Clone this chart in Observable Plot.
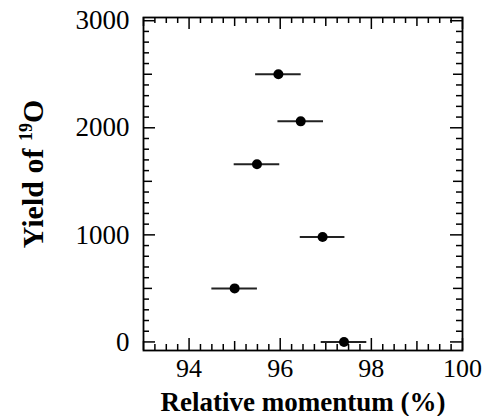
<!DOCTYPE html>
<html>
<head>
<meta charset="utf-8">
<script src="https://cdn.jsdelivr.net/npm/d3@7"></script>
<script src="https://cdn.jsdelivr.net/npm/@observablehq/plot@0.6"></script>
<style>
  html, body { margin: 0; padding: 0; background: #fff; }
  #chart svg { display: block; }
</style>
</head>
<body>
<div id="chart"></div>
<script>
// Data: relative momentum (%) and yield of 19O
const momentum = [95.96, 96.45, 95.49, 96.93, 95.0, 97.4];
const yieldO19 = [2500, 2060, 1660, 980, 500, 0];
const momentumErr = [0.5, 0.5, 0.5, 0.49, 0.5, 0.5];

// Tick labels
const xTickLabels = [94, 96, 98, 100];
const yTickLabels = [0, 1000, 2000, 3000];

const data = momentum.map((m, i) => ({
  x: m, y: yieldO19[i], lo: m - momentumErr[i], hi: m + momentumErr[i]
}));

const W = 487, H = 416;
const mt = 17, mr = 25, mb = 66, ml = 143;
const pw = W - ml - mr, ph = H - mt - mb;
const xDomain = [93, 100], yDomain = [-80, 3030];

const xMajor = d3.range(94, 100.01, 2);
const xMid = d3.range(93, 100.01, 1).filter(v => v % 2 !== 0);
const xMinor = d3.range(93, 100.001, 0.25).filter(v => v % 1 !== 0);
const yMajor = d3.range(0, 3001, 1000);
const yMid = d3.range(500, 3001, 1000);
const yMinor = d3.range(0, 3001, 100).filter(v => v % 500 !== 0);

const sw = 1.5;
function xt(vals, len) {
  return [
    Plot.tickX(vals, {x: d => d, insetTop: ph - len, stroke: "black", strokeWidth: sw}),
    Plot.tickX(vals, {x: d => d, insetBottom: ph - len, stroke: "black", strokeWidth: sw})
  ];
}
function yt(vals, len) {
  return [
    Plot.tickY(vals, {y: d => d, insetRight: pw - len, stroke: "black", strokeWidth: sw}),
    Plot.tickY(vals, {y: d => d, insetLeft: pw - len, stroke: "black", strokeWidth: sw})
  ];
}

const serif = "'Liberation Serif', Tinos, 'Times New Roman', Times, 'Noto Serif', 'DejaVu Serif', serif";

const chart = Plot.plot({
  width: W, height: H,
  marginTop: mt, marginRight: mr, marginBottom: mb, marginLeft: ml,
  x: {domain: xDomain},
  y: {domain: yDomain},
  style: {fontFamily: serif, background: "white", color: "black"},
  marks: [
    ...xt(xMajor, 12), ...xt(xMid, 9), ...xt(xMinor, 6),
    ...yt(yMajor, 12), ...yt(yMid, 9), ...yt(yMinor, 6),
    Plot.frame({stroke: "black", strokeWidth: 1.8}),
    Plot.axisX(xTickLabels, {tickSize: 0, tickPadding: 8, fontSize: 26, fontFamily: serif, tickFormat: d => String(d), label: null}),
    Plot.axisY(yTickLabels, {tickSize: 0, tickPadding: 14, fontSize: 27, fontFamily: serif, tickFormat: d => String(d), label: null}),
    Plot.ruleY(data, {y: "y", x1: "lo", x2: "hi", stroke: "#222", strokeWidth: 2}),
    Plot.dot(data, {x: "x", y: "y", r: 5, fill: "black", stroke: "none"}),
    Plot.text(["Relative momentum (%)"], {frameAnchor: "bottom", dy: 52, fontSize: 27, fontWeight: "bold", fontFamily: serif, lineAnchor: "middle", textAnchor: "middle", fill: "black"}),
    Plot.text(["Yield of |19|O"], {frameAnchor: "left", dx: -110, dy: -10, rotate: -90, fontSize: 30, fontWeight: "bold", fontFamily: serif, lineAnchor: "middle", textAnchor: "middle", fill: "black"})
  ]
});

document.getElementById("chart").appendChild(chart);

// superscript for the isotope mass number
d3.select(chart).selectAll("text").each(function () {
  const t = d3.select(this);
  const s = t.text();
  if (s === "Yield of |19|O") {
    t.text(null);
    t.append("tspan").text("Yield of ");
    t.append("tspan").attr("font-size", "0.6em").attr("dy", "-0.6em").text("19");
    t.append("tspan").attr("dy", "0.36em").text("O");
  }
});
</script>
</body>
</html>
